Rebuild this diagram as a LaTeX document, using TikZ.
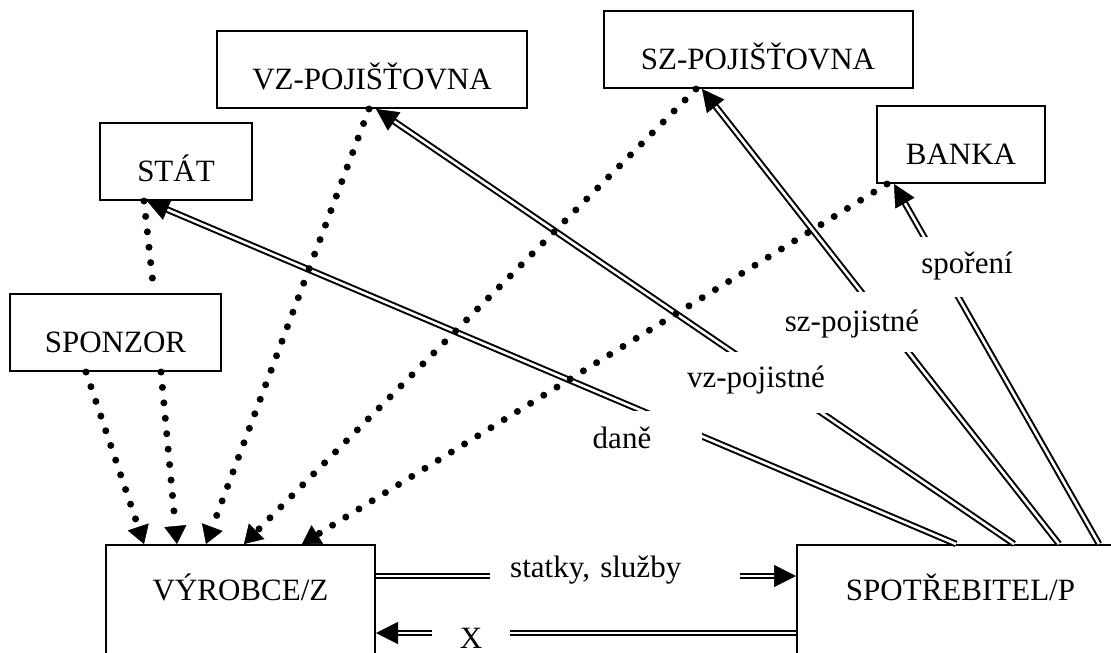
\documentclass[tikz,border=0pt]{standalone}
\usepackage{fontspec}
\setmainfont{Liberation Serif}
\usetikzlibrary{arrows.meta,calc}

\tikzset{
  box/.style={draw, line width=2pt, anchor=base, inner ysep=0pt,
    text height=58pt, text depth=19pt, font=\fontsize{31}{37}\selectfont},
  lbl/.style={fill=white, inner sep=0pt, anchor=base, font=\fontsize{31}{37}\selectfont},
  flow/.style={double, line width=2pt, double distance=2.6pt,
    -{Triangle[length=22pt,width=22pt,line width=0.5pt]}},
  dotflow/.style={line width=7pt, line cap=round, dash pattern=on 0pt off 15.5pt},
  dottip/.style={-{Triangle[length=18pt,width=22pt,line width=0.5pt]}}
}

\begin{document}
\begin{tikzpicture}[x=1pt,y=-1pt]
    \useasboundingbox (0,0) rectangle (1111,653);
    \clip (0,0) rectangle (1111,653);
    % Draw boxes
    \node[box, minimum width=310pt] (vzp) at (372,89) {VZ-POJIŠŤOVNA};
    \node[box, minimum width=309pt] (szp) at (758,69) {SZ-POJIŠŤOVNA};
    \node[box, minimum width=152pt] (stat) at (176,181) {STÁT};
    \node[box, minimum width=168pt] (banka) at (961,164) {BANKA};
    \node[box, minimum width=211pt] (sponzor) at (115.5,352) {SPONZOR};
    \node[box, minimum width=269pt, text height=55pt, text depth=100pt] (vyr) at (240.5,600) {VÝROBCE/Z};
    \node[box, minimum width=327pt, text height=55pt, text depth=100pt] (spot) at (960.5,600) {SPOTŘEBITEL/P};
    % Draw payments from the consumer
    \draw[flow] ($(spot.north west)+(160,0)$) -- ($(stat.south west)+(48,0)$);
    \draw[flow] ($(spot.north west)+(218,0)$) -- ($(vzp.south west)+(160,0)$);
    \draw[flow] ($(spot.north west)+(263,0)$) -- ($(szp.south west)+(99.5,0)$);
    \draw[flow] ($(spot.north west)+(303,0)$) -- ($(banka.south west)+(18,0)$);
    \draw[flow] ($(vyr.north east)+(0,32)$) -- ($(spot.north west)+(0,32)$);
    \draw[flow] ($(spot.north west)+(0,89)$) -- ($(vyr.north east)+(0,89)$);
    % Draw dotted flows to the producer
    \draw[dotflow] ($(stat.south west)+(45,0)$) -- ($(sponzor.north west)+(145,0)$);
    \draw[dotflow, dottip] ($(sponzor.south west)+(77,0)$) -- ($(vyr.north west)+(39,0)$);
    \draw[dotflow, dottip] ($(sponzor.south west)+(152,0)$) -- ($(vyr.north west)+(72,0)$);
    \draw[dotflow, dottip] ($(vzp.south west)+(153,0)$) -- ($(vyr.north west)+(101,0)$);
    \draw[dotflow, dottip] ($(szp.south west)+(93.5,0)$) -- ($(vyr.north west)+(139,0)$);
    \draw[dotflow, dottip] ($(banka.south west)+(11,0)$) -- ($(vyr.north west)+(197,0)$);
    % Labels
    \node[lbl, anchor=base west, text width=210pt, inner xsep=20pt, inner ysep=5pt, align=left] (statky) at (490,577) {statky, služby};
    \node[lbl, minimum width=78pt, inner ysep=5pt] (xlbl) at (471,648) {X};
    \node[lbl, minimum width=160pt, text height=37pt, text depth=8pt] (dane) at (622,448) {daně};
    \node[lbl, minimum width=150pt, text height=35pt, text depth=26pt] (vzpoj) at (756,387) {vz-pojistné};
    \node[lbl, minimum width=160pt, text height=39pt, text depth=21pt] (szpoj) at (852,331) {sz-pojistné};
    \node[lbl, minimum width=110pt, text height=36pt, text depth=24pt] (spor) at (967,273) {spoření};
\end{tikzpicture}
\end{document}
